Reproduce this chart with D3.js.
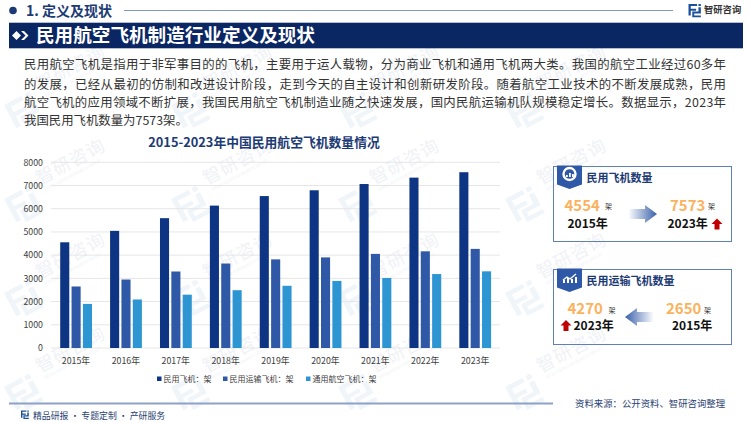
<!DOCTYPE html>
<html><head><meta charset="utf-8">
<style>html,body{margin:0;padding:0;background:#fff}svg{display:block}text{font-family:"Noto Sans CJK SC","Noto Sans",sans-serif}</style>
<script src="https://cdn.jsdelivr.net/npm/d3@7"></script></head><body>
<script>
const years = ["2015年","2016年","2017年","2018年","2019年","2020年","2021年","2022年","2023年"];
const civil = [4554,5046,5593,6134,6545,6795,7064,7340,7573];
const transport = [2650,2950,3296,3639,3818,3903,4054,4165,4270];
const general = [1900,2090,2297,2490,2680,2890,3018,3186,3303];
const seriesNames = ["民用飞机：架","民用运输飞机：架","通用航空飞机：架"];
const seriesColors = ["#0e3583","#2f58a6","#2e95d3"];
const yTicks = [0,1000,2000,3000,4000,5000,6000,7000,8000];
const paragraph = [
 "民用航空飞机是指用于非军事目的的飞机，主要用于运人载物，分为商业飞机和通用飞机两大类。我国的航空工业经过60多年",
 "的发展，已经从最初的仿制和改进设计阶段，走到今天的自主设计和创新研发阶段。随着航空工业技术的不断发展成熟，民用",
 "航空飞机的应用领域不断扩展，我国民用航空飞机制造业随之快速发展，国内民航运输机队规模稳定增长。数据显示，2023年",
 "我国民用飞机数量为7573架。"];

const svg = d3.select("body").append("svg").attr("width",750).attr("height",422);
const T=(x,y,s,size,fill,opts={})=>{const t=svg.append("text").attr("x",x).attr("y",y).text(s)
  .attr("font-size",size).attr("fill",fill).attr("font-weight",opts.w||400).attr("text-anchor",opts.a||"start");
  if(opts.len)t.attr("textLength",opts.len).attr("lengthAdjust","spacing");return t;};

function logo(g,x,y,s,c){
  g.append("path").attr("transform",`translate(${x},${y}) scale(${s})`)
   .attr("fill",c).attr("d","M0 0H9V2.2H2.4V5H8V7H2.4V12H0ZM10.5 0H13V2.2H10.5ZM10.5 3.500H13V10H6V12H13V14H4V8H10.5Z");
}
// watermark
const wm=svg.append("g");
[91,185,279,373].forEach(y=>[40,207,374,541].forEach(x=>{
  const g=wm.append("g").attr("transform",`translate(${x},${y}) rotate(-28)`);
  g.append("text").attr("x",0).attr("y",0).attr("font-size",18).attr("fill","#f0f2f6").attr("letter-spacing",1).text("智研咨询");
  g.append("text").attr("x",2).attr("y",8).attr("font-size",4).attr("fill","#f0f2f6").text("INTELLIGENCE RESEARCH GROUP");
  const l=wm.append("g").attr("transform",`translate(${x-36},${y+14}) rotate(-28)`);
  logo(l,0,0,2.2,"#f0f5fa");
}));

// header
svg.append("circle").attr("cx",13).attr("cy",10.5).attr("r",3.800).attr("fill","#1c3a74");
T(26,15.500,"1. 定义及现状",14,"#1c3a74",{w:700});
svg.append("line").attr("x1",124).attr("x2",673).attr("y1",10.500).attr("y2",10.500).attr("stroke","#7f97c2").attr("stroke-width",1.200);
logo(svg,688.500,4,0.95,"#1c4f9c");
T(704,13,"智研咨询",9.300,"#333",{w:700});
svg.append("rect").attr("x",9).attr("y",22.700).attr("width",734).attr("height",25.600).attr("fill","#0a2663");
svg.append("path").attr("fill","#fff").attr("d","M12 35.500l4.500-4.500 4.500 4.500-4.500 4.500zM21 31h3l4.500 4.500-4.500 4.500h-3l4.500-4.500z");
T(36,41.800,"民用航空飞机制造行业定义及现状",18.600,"#fff",{w:700});

// paragraph
const pys=[68.500,88.500,107,125], plen=[702,702,702,null];
paragraph.forEach((s,i)=>T(24,pys[i],s,12.400,"#333",plen[i]?{len:plen[i]}:{}));

// chart
T(264,147,"2015-2023年中国民用航空飞机数量情况",12.800,"#1c3a74",{w:700,a:"middle"});
const x0=d3.scaleBand().domain(years).range([51,500]).paddingInner(0).paddingOuter(0);
const x1=d3.scaleBand().domain(seriesNames).range([9.200,41]).paddingInner(0.2);
const y=d3.scaleLinear().domain([0,8000]).range([348,162.300]);
const gy=svg.append("g").call(d3.axisLeft(y).tickValues(yTicks).tickSize(0).tickPadding(8).tickFormat(d3.format("d"))).attr("transform","translate(51,0)");
gy.select(".domain").remove();
gy.selectAll("text").attr("font-size",8.800).attr("fill","#404040").style("font-family",'"Noto Sans CJK SC"');
svg.append("g").selectAll("line").data(yTicks).join("line")
  .attr("x1",51).attr("x2",500).attr("y1",d=>y(d)).attr("y2",d=>y(d)).attr("stroke","#e6e6e6").attr("stroke-width",1);
const gx=svg.append("g").attr("transform","translate(0,348)").call(d3.axisBottom(x0).tickSize(0).tickPadding(9.500));
gx.select(".domain").remove();
gx.selectAll("text").attr("font-size",8.800).attr("fill","#404040").style("font-family",'"Noto Sans CJK SC"');
[civil,transport,general].forEach((vals,i)=>{
  svg.append("g").attr("fill",seriesColors[i]).selectAll("rect").data(vals).join("rect")
    .attr("x",(d,j)=>x0(years[j])+x1(seriesNames[i])).attr("width",x1.bandwidth())
    .attr("y",d=>y(d)).attr("height",d=>y(0)-y(d));
});
// legend
const lx=[157,223,306];
seriesNames.forEach((n,i)=>{
  svg.append("rect").attr("x",lx[i]).attr("y",376.500).attr("width",4.500).attr("height",4.500).attr("fill",seriesColors[i]);
  T(lx[i]+6.500,382.300,n,8,"#404040");
});

// footer
svg.append("line").attr("x1",9).attr("x2",553).attr("y1",403.500).attr("y2",403.500).attr("stroke","#8ea1c6").attr("stroke-width",1.800);
logo(svg,21,410.500,0.6,"#1c4f9c");
T(33,418.500,"精品研报 · 专题定制 · 产研服务",8.900,"#2a3f74");
T(575,406.500,"资料来源：公开资料、智研咨询整理",9.400,"#2a3f74");

// cards
const defs=svg.append("defs");
const grad=(id,x1_,x2_)=>{const g=defs.append("linearGradient").attr("id",id).attr("x1",x1_).attr("x2",x2_).attr("y1",0).attr("y2",0);
  g.append("stop").attr("offset",0).attr("stop-color","#2f58a6").attr("stop-opacity",0.03);
  g.append("stop").attr("offset",1).attr("stop-color","#2f58a6").attr("stop-opacity",0.95);};
grad("gl",0,1);grad("gr",1,0);
function card(cy,h,title){
  svg.append("rect").attr("x",553.500).attr("y",cy).attr("width",178).attr("height",h).attr("fill","none").attr("stroke","#5f7fb8").attr("stroke-width",1);
  svg.append("path").attr("fill","#2f58a6").attr("d",`M557 ${cy-1}h25v19l-12.500 4.500-12.500-4.500z`);
  T(586.500,cy+15.500,title,11,"#1c3a74",{w:700});
}
card(166.500,75,"民用飞机数量");
card(269.500,75,"民用运输飞机数量");
// card icons
svg.append("circle").attr("cx",569.500).attr("cy",174).attr("r",6).attr("fill","none").attr("stroke","#fff").attr("stroke-width",2.400);
svg.selectAll(".ib").data([[566,2],[569,4],[572,3]]).join("rect").attr("x",d=>d[0]).attr("width",1.800).attr("y",d=>177-d[1]).attr("height",d=>d[1]).attr("fill","#fff");
svg.append("path").attr("fill","none").attr("stroke","#fff").attr("stroke-width",1.300).attr("d","M563 280l4-3 3 2 6-5");
svg.selectAll(".ic").data([[563,3],[567,5],[571,4],[575,6]]).join("rect").attr("x",d=>d[0]).attr("width",2).attr("y",d=>283-d[1]).attr("height",d=>d[1]).attr("fill","#fff");

const orange="#fbb25e";
T(564.500,210.500,"4554",15,orange,{w:700});
T(605,209,"架",7,"#333");
T(567.500,227.500,"2015年",12,"#111",{w:700});
T(670,210.500,"7573",15,orange,{w:700});
T(708,209,"架",7,"#333");
T(667.500,227.500,"2023年",12,"#111",{w:700});
const up=(cx,yt)=>svg.append("path").attr("fill","#c00000").attr("d",`M${cx} ${yt}l5.500 5.500h-3v5.500h-5v-5.500h-3z`);
up(717,218.500);
svg.append("path").attr("fill","url(#gl)").attr("d","M629 209h16v-4l12 9-12 9v-4h-16z");

T(567.500,313.500,"4270",15,orange,{w:700});
T(608.500,312.500,"架",7,"#333");
T(573.500,329.500,"2023年",12,"#111",{w:700});
T(666,313.500,"2650",15,orange,{w:700});
T(704,312.500,"架",7,"#333");
T(672,329.500,"2015年",12,"#111",{w:700});
up(566,320);
svg.append("path").attr("fill","url(#gr)").attr("d","M653 312h-16v-4l-12 9 12 9v-4h16z");
</script></body></html>
